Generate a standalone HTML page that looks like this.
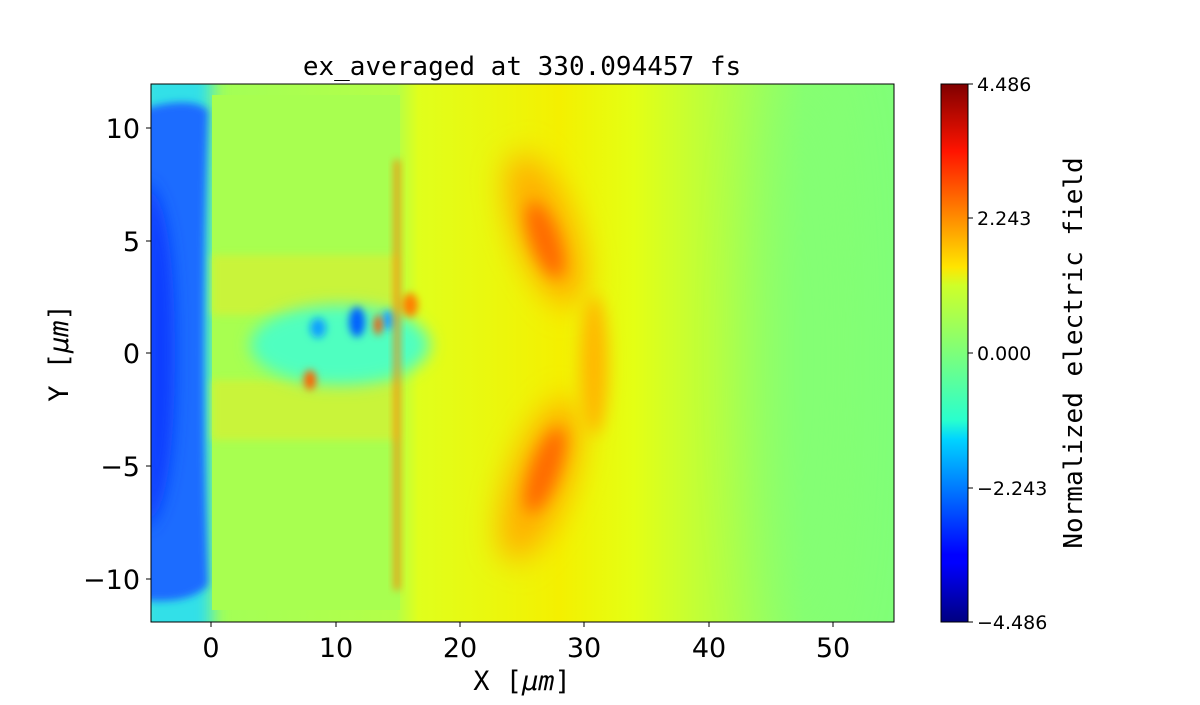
<!DOCTYPE html>
<html><head><meta charset="utf-8"><style>
body{margin:0;background:#fff}
svg text.m{font-family:"DejaVu Sans Mono","Liberation Mono",monospace}
svg text.s{font-family:"DejaVu Sans","Liberation Sans",sans-serif}
</style></head><body>
<svg width="1200" height="700" viewBox="0 0 1200 700" xmlns="http://www.w3.org/2000/svg">
<defs>
<clipPath id="pc"><rect x="151" y="84" width="743" height="538"/></clipPath>
<filter id="b4" x="-100%" y="-100%" width="300%" height="300%"><feGaussianBlur stdDeviation="4"/></filter>
<filter id="b8" x="-100%" y="-100%" width="300%" height="300%"><feGaussianBlur stdDeviation="8"/></filter>
<filter id="b15" x="-100%" y="-100%" width="300%" height="300%"><feGaussianBlur stdDeviation="15"/></filter>
<filter id="b30" x="-100%" y="-100%" width="300%" height="300%"><feGaussianBlur stdDeviation="30"/></filter>
<linearGradient id="bg" x1="0" x2="1" y1="0" y2="0">
<stop offset="0" stop-color="#9cff5c"/>
<stop offset="0.33" stop-color="#b4ff48"/>
<stop offset="0.36" stop-color="#e0ff1c"/>
<stop offset="0.55" stop-color="#f4f000"/>
<stop offset="0.65" stop-color="#e4ff14"/>
<stop offset="0.78" stop-color="#b0ff48"/>
<stop offset="0.88" stop-color="#88ff70"/>
<stop offset="1" stop-color="#80ff78"/>
</linearGradient>
<linearGradient id="jet" x1="0" x2="0" y1="1" y2="0">
<stop offset="0" stop-color="#000080"/>
<stop offset="0.11" stop-color="#0000ff"/>
<stop offset="0.125" stop-color="#0000ff"/>
<stop offset="0.34" stop-color="#00d4ff"/>
<stop offset="0.375" stop-color="#29ffce"/>
<stop offset="0.5" stop-color="#7dff7a"/>
<stop offset="0.625" stop-color="#ceff29"/>
<stop offset="0.66" stop-color="#ffe500"/>
<stop offset="0.875" stop-color="#ff1400"/>
<stop offset="1" stop-color="#800000"/>
</linearGradient>
</defs>
<g clip-path="url(#pc)">
<rect x="151" y="84" width="743" height="538" fill="url(#bg)"/>
<rect x="140" y="70" width="72" height="570" fill="#30e0e8" filter="url(#b8)"/>
<path d="M140 110 Q190 95 208 110 Q200 353 208 585 Q190 605 140 600 Z" fill="#1a6cff" filter="url(#b4)"/>
<path d="M145 180 Q175 200 175 353 Q175 510 145 530 Z" fill="#0a3cff" filter="url(#b8)"/>
<rect x="212" y="95" width="188" height="515" fill="#a8ff50"/>
<rect x="212" y="255" width="188" height="60" fill="#d8f030" opacity="0.7" filter="url(#b4)"/>
<rect x="212" y="380" width="188" height="60" fill="#d8f030" opacity="0.7" filter="url(#b4)"/>
<ellipse cx="340" cy="345" rx="90" ry="40" fill="#50ffc0" filter="url(#b8)"/>
<ellipse cx="357" cy="322" rx="8" ry="15" fill="#0060ff" filter="url(#b4)"/>
<ellipse cx="318" cy="328" rx="8" ry="10" fill="#10a0ff" filter="url(#b4)"/>
<ellipse cx="388" cy="320" rx="6" ry="10" fill="#20a0ff" filter="url(#b4)"/>
<ellipse cx="378" cy="325" rx="4" ry="10" fill="#ff5000" filter="url(#b4)"/>
<ellipse cx="310" cy="380" rx="6" ry="10" fill="#ff6000" filter="url(#b4)"/>
<ellipse cx="410" cy="305" rx="8" ry="12" fill="#ff8000" filter="url(#b4)"/>
<rect x="394" y="160" width="6" height="430" fill="#ff8000" opacity="0.8" filter="url(#b4)"/>
<ellipse cx="545" cy="230" rx="30" ry="80" transform="rotate(-20 545 230)" fill="#ffb000" filter="url(#b15)"/>
<ellipse cx="545" cy="240" rx="14" ry="40" transform="rotate(-20 545 240)" fill="#ff6a00" filter="url(#b8)"/>
<ellipse cx="540" cy="480" rx="30" ry="85" transform="rotate(20 540 480)" fill="#ffb000" filter="url(#b15)"/>
<ellipse cx="545" cy="470" rx="14" ry="45" transform="rotate(20 545 470)" fill="#ff6a00" filter="url(#b8)"/>
<ellipse cx="594" cy="365" rx="14" ry="70" fill="#ffb800" filter="url(#b8)"/>
<ellipse cx="800" cy="360" rx="40" ry="300" fill="#80ff78" opacity="0.6" filter="url(#b30)"/>
</g>
<rect x="151" y="84" width="743" height="538" fill="none" stroke="#000" stroke-width="1"/>
<g stroke="#000">
<line x1="211" y1="622" x2="211" y2="627"/><line x1="336" y1="622" x2="336" y2="627"/>
<line x1="460" y1="622" x2="460" y2="627"/><line x1="584" y1="622" x2="584" y2="627"/>
<line x1="709" y1="622" x2="709" y2="627"/><line x1="833" y1="622" x2="833" y2="627"/>
<line x1="146" y1="128" x2="151" y2="128"/><line x1="146" y1="241" x2="151" y2="241"/>
<line x1="146" y1="353" x2="151" y2="353"/><line x1="146" y1="466" x2="151" y2="466"/>
<line x1="146" y1="579" x2="151" y2="579"/>
</g>
<g font-size="27" text-anchor="middle">
<text class="s" x="211" y="657">0</text><text class="s" x="336" y="657">10</text><text class="s" x="460" y="657">20</text>
<text class="s" x="584" y="657">30</text><text class="s" x="709" y="657">40</text><text class="s" x="833" y="657">50</text>
</g>
<g font-size="27" text-anchor="end">
<text class="s" x="140" y="138">10</text><text class="s" x="140" y="251">5</text><text class="s" x="140" y="363">0</text>
<text class="s" x="140" y="476">−5</text><text class="s" x="140" y="589">−10</text></g>
<text class="m" x="522" y="690" font-size="27" text-anchor="middle">X [<tspan font-style="italic">μm</tspan>]</text>
<text class="m" x="68" y="353" font-size="27" text-anchor="middle" transform="rotate(-90 68 353)">Y [<tspan font-style="italic">μm</tspan>]</text>
<text class="m" x="522" y="75" font-size="26" text-anchor="middle">ex_averaged at 330.094457 fs</text>
<rect x="941" y="84" width="27" height="538" fill="url(#jet)"/>
<rect x="941" y="84" width="27" height="538" fill="none" stroke="#000"/>
<g stroke="#000"><line x1="968" y1="84" x2="973" y2="84"/><line x1="968" y1="218" x2="973" y2="218"/>
<line x1="968" y1="353" x2="973" y2="353"/><line x1="968" y1="488" x2="973" y2="488"/><line x1="968" y1="622" x2="973" y2="622"/></g>
<g font-size="19">
<text class="s" x="977" y="91">4.486</text><text class="s" x="977" y="225">2.243</text><text class="s" x="977" y="360">0.000</text>
<text class="s" x="977" y="495">−2.243</text><text class="s" x="977" y="629">−4.486</text></g>
<text class="m" x="1082" y="353" font-size="26" text-anchor="middle" transform="rotate(-90 1082 353)">Normalized electric field</text>
</svg>
</body></html>
